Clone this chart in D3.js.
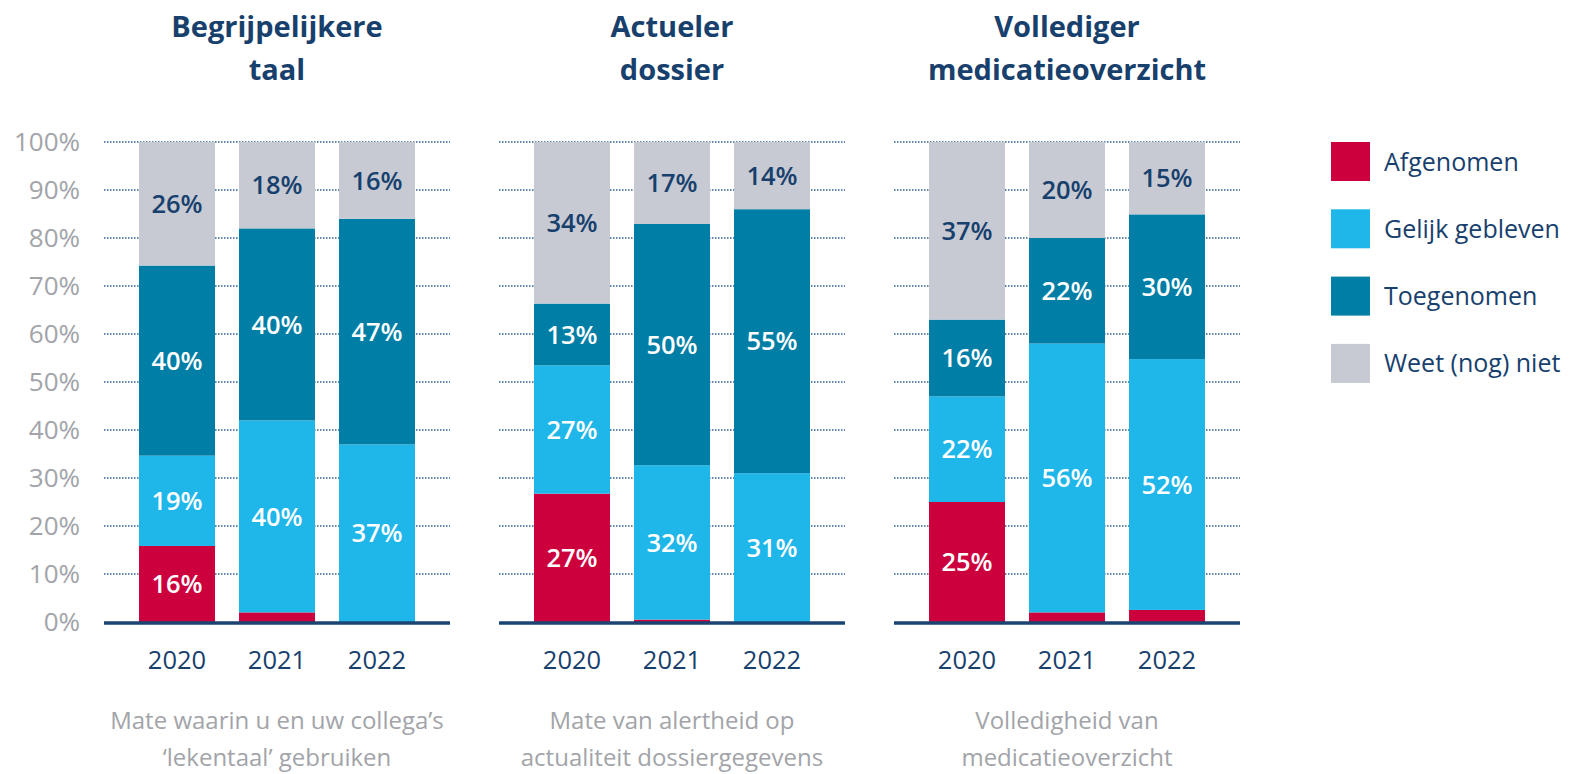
<!DOCTYPE html>
<html>
<head>
<meta charset="utf-8">
<script src="https://cdn.jsdelivr.net/npm/d3@7"></script>
<style>
  body { margin: 0; background: #fff; }
  text { font-family: "Open Sans", "Noto Sans", sans-serif; }
</style>
</head>
<body>
<div id="chart"></div>
<script>
// data
var years = ["2020", "2021", "2022"];
var titles = [["Begrijpelijkere", "taal"], ["Actueler", "dossier"], ["Vollediger", "medicatieoverzicht"]];
var subtitles = [["Mate waarin u en uw collega’s", "‘lekentaal’ gebruiken"],
                 ["Mate van alertheid op", "actualiteit dossiergegevens"],
                 ["Volledigheid van", "medicatieoverzicht"]];
var seriesNames = ["Afgenomen", "Gelijk gebleven", "Toegenomen", "Weet (nog) niet"];
var afgenomen  = [[16, 2, 0], [27, 0.5, 0], [25, 2, 2.5]];
var gelijk     = [[19, 40, 37], [27, 32, 31], [22, 56, 52]];
var toegenomen = [[40, 40, 47], [13, 50, 55], [16, 22, 30]];
var weetNiet   = [[26, 18, 16], [34, 17, 14], [37, 20, 15]];
var yTicks = [0, 10, 20, 30, 40, 50, 60, 70, 80, 90, 100];

var colors = ["#cc003d", "#1fb6ea", "#007ea6", "#c7cad3"];
var labelColors = ["#ffffff", "#ffffff", "#ffffff", "#17406d"];
var navy = "#17406d";
var grey = "#a2a4a9";

var width = 1572, height = 774;
var panelW = 346, panelStep = 395, panelX0 = 104;

var svg = d3.select("#chart").append("svg")
    .attr("width", width)
    .attr("height", height);

var y = d3.scaleLinear().domain([0, 1]).range([622, 142]);

// y-as labels, only left
svg.append("g").selectAll("text")
    .data(yTicks).enter().append("text")
    .attr("x", 80)
    .attr("y", d => y(d / 100))
    .attr("dy", "0.36em")
    .attr("text-anchor", "end")
    .style("font-size", "26px")
    .style("fill", grey)
    .text(d => d + "%");

var stack = d3.stack()
    .keys([0, 1, 2, 3])
    .offset(d3.stackOffsetExpand);

for (var p = 0; p < 3; p++) {
  var x0 = panelX0 + p * panelStep;
  var g = svg.append("g").attr("class", "panel");

  var rows = years.map(function(yr, i) {
    return { year: yr, 0: afgenomen[p][i], 1: gelijk[p][i], 2: toegenomen[p][i], 3: weetNiet[p][i] };
  });

  var x = d3.scaleBand()
      .domain(years)
      .range([x0 + 23, x0 + 323])
      .paddingInner(0.24)
      .paddingOuter(0.12);

  // gridlines
  g.append("g").selectAll("line")
      .data(yTicks.slice(1)).enter().append("line")
      .attr("x1", x0).attr("x2", x0 + panelW)
      .attr("y1", d => y(d / 100)).attr("y2", d => y(d / 100))
      .style("stroke", "#2d5f91")
      .style("stroke-width", 1.5)
      .style("stroke-dasharray", "1.5,1.5");

  var layers = stack(rows);

  var layer = g.selectAll(".layer")
      .data(layers).enter().append("g")
      .attr("class", "layer")
      .style("fill", (d, i) => colors[i]);

  layer.selectAll("rect")
      .data(d => d).enter().append("rect")
      .attr("x", d => x(d.data.year))
      .attr("width", x.bandwidth())
      .attr("y", d => y(d[1]))
      .attr("height", d => y(d[0]) - y(d[1]));

  layer.selectAll("text")
      .data(function(d, i) { return d.map(function(s) { s.k = i; return s; }); })
      .enter().filter(s => s.data[s.k] >= 10).append("text")
      .attr("x", s => x(s.data.year) + x.bandwidth() / 2)
      .attr("y", s => (y(s[0]) + y(s[1])) / 2)
      .attr("dy", "0.36em")
      .attr("text-anchor", "middle")
      .style("font-size", "25.5px")
      .style("font-weight", 600)
      .style("fill", s => labelColors[s.k])
      .text(s => Math.round(s.data[s.k]) + "%");

  // baseline
  g.append("line")
      .attr("x1", x0).attr("x2", x0 + panelW)
      .attr("y1", 623).attr("y2", 623)
      .style("stroke", "#1b4473")
      .style("stroke-width", 3.5);

  // x-as
  var xAxis = d3.axisBottom(x).tickSize(0).tickPadding(0);
  var ax = g.append("g")
      .attr("transform", "translate(0,660)")
      .call(xAxis);
  ax.select(".domain").remove();
  ax.selectAll("text")
      .attr("dy", "0.36em")
      .attr("y", 0)
      .style("font-size", "25.5px")
      .style("font-family", "'Open Sans', sans-serif")
      .style("fill", navy);

  var cx = x0 + panelW / 2;

  // title
  g.append("text")
      .attr("x", cx).attr("y", 0)
      .attr("text-anchor", "middle")
      .style("font-size", "29px")
      .style("font-weight", 700)
      .style("fill", navy)
      .selectAll("tspan")
      .data(titles[p]).enter().append("tspan")
      .attr("x", cx)
      .attr("y", (d, i) => 37 + i * 43)
      .text(d => d);

  // subtitle
  g.append("text")
      .attr("x", cx).attr("y", 0)
      .attr("text-anchor", "middle")
      .style("font-size", "24px")
      .style("fill", grey)
      .selectAll("tspan")
      .data(subtitles[p]).enter().append("tspan")
      .attr("x", cx)
      .attr("y", (d, i) => 729 + i * 37)
      .text(d => d);
}

// legend
var legend = svg.append("g").selectAll("g")
    .data(seriesNames).enter().append("g")
    .attr("transform", (d, i) => "translate(1331," + (142 + i * 67.3) + ")");

legend.append("rect")
    .attr("width", 39).attr("height", 39)
    .style("fill", (d, i) => colors[i]);

legend.append("text")
    .attr("x", 53).attr("y", 19.5)
    .attr("dy", "0.36em")
    .style("font-size", "25px")
    .style("fill", navy)
    .text(d => d);
</script>
</body>
</html>
